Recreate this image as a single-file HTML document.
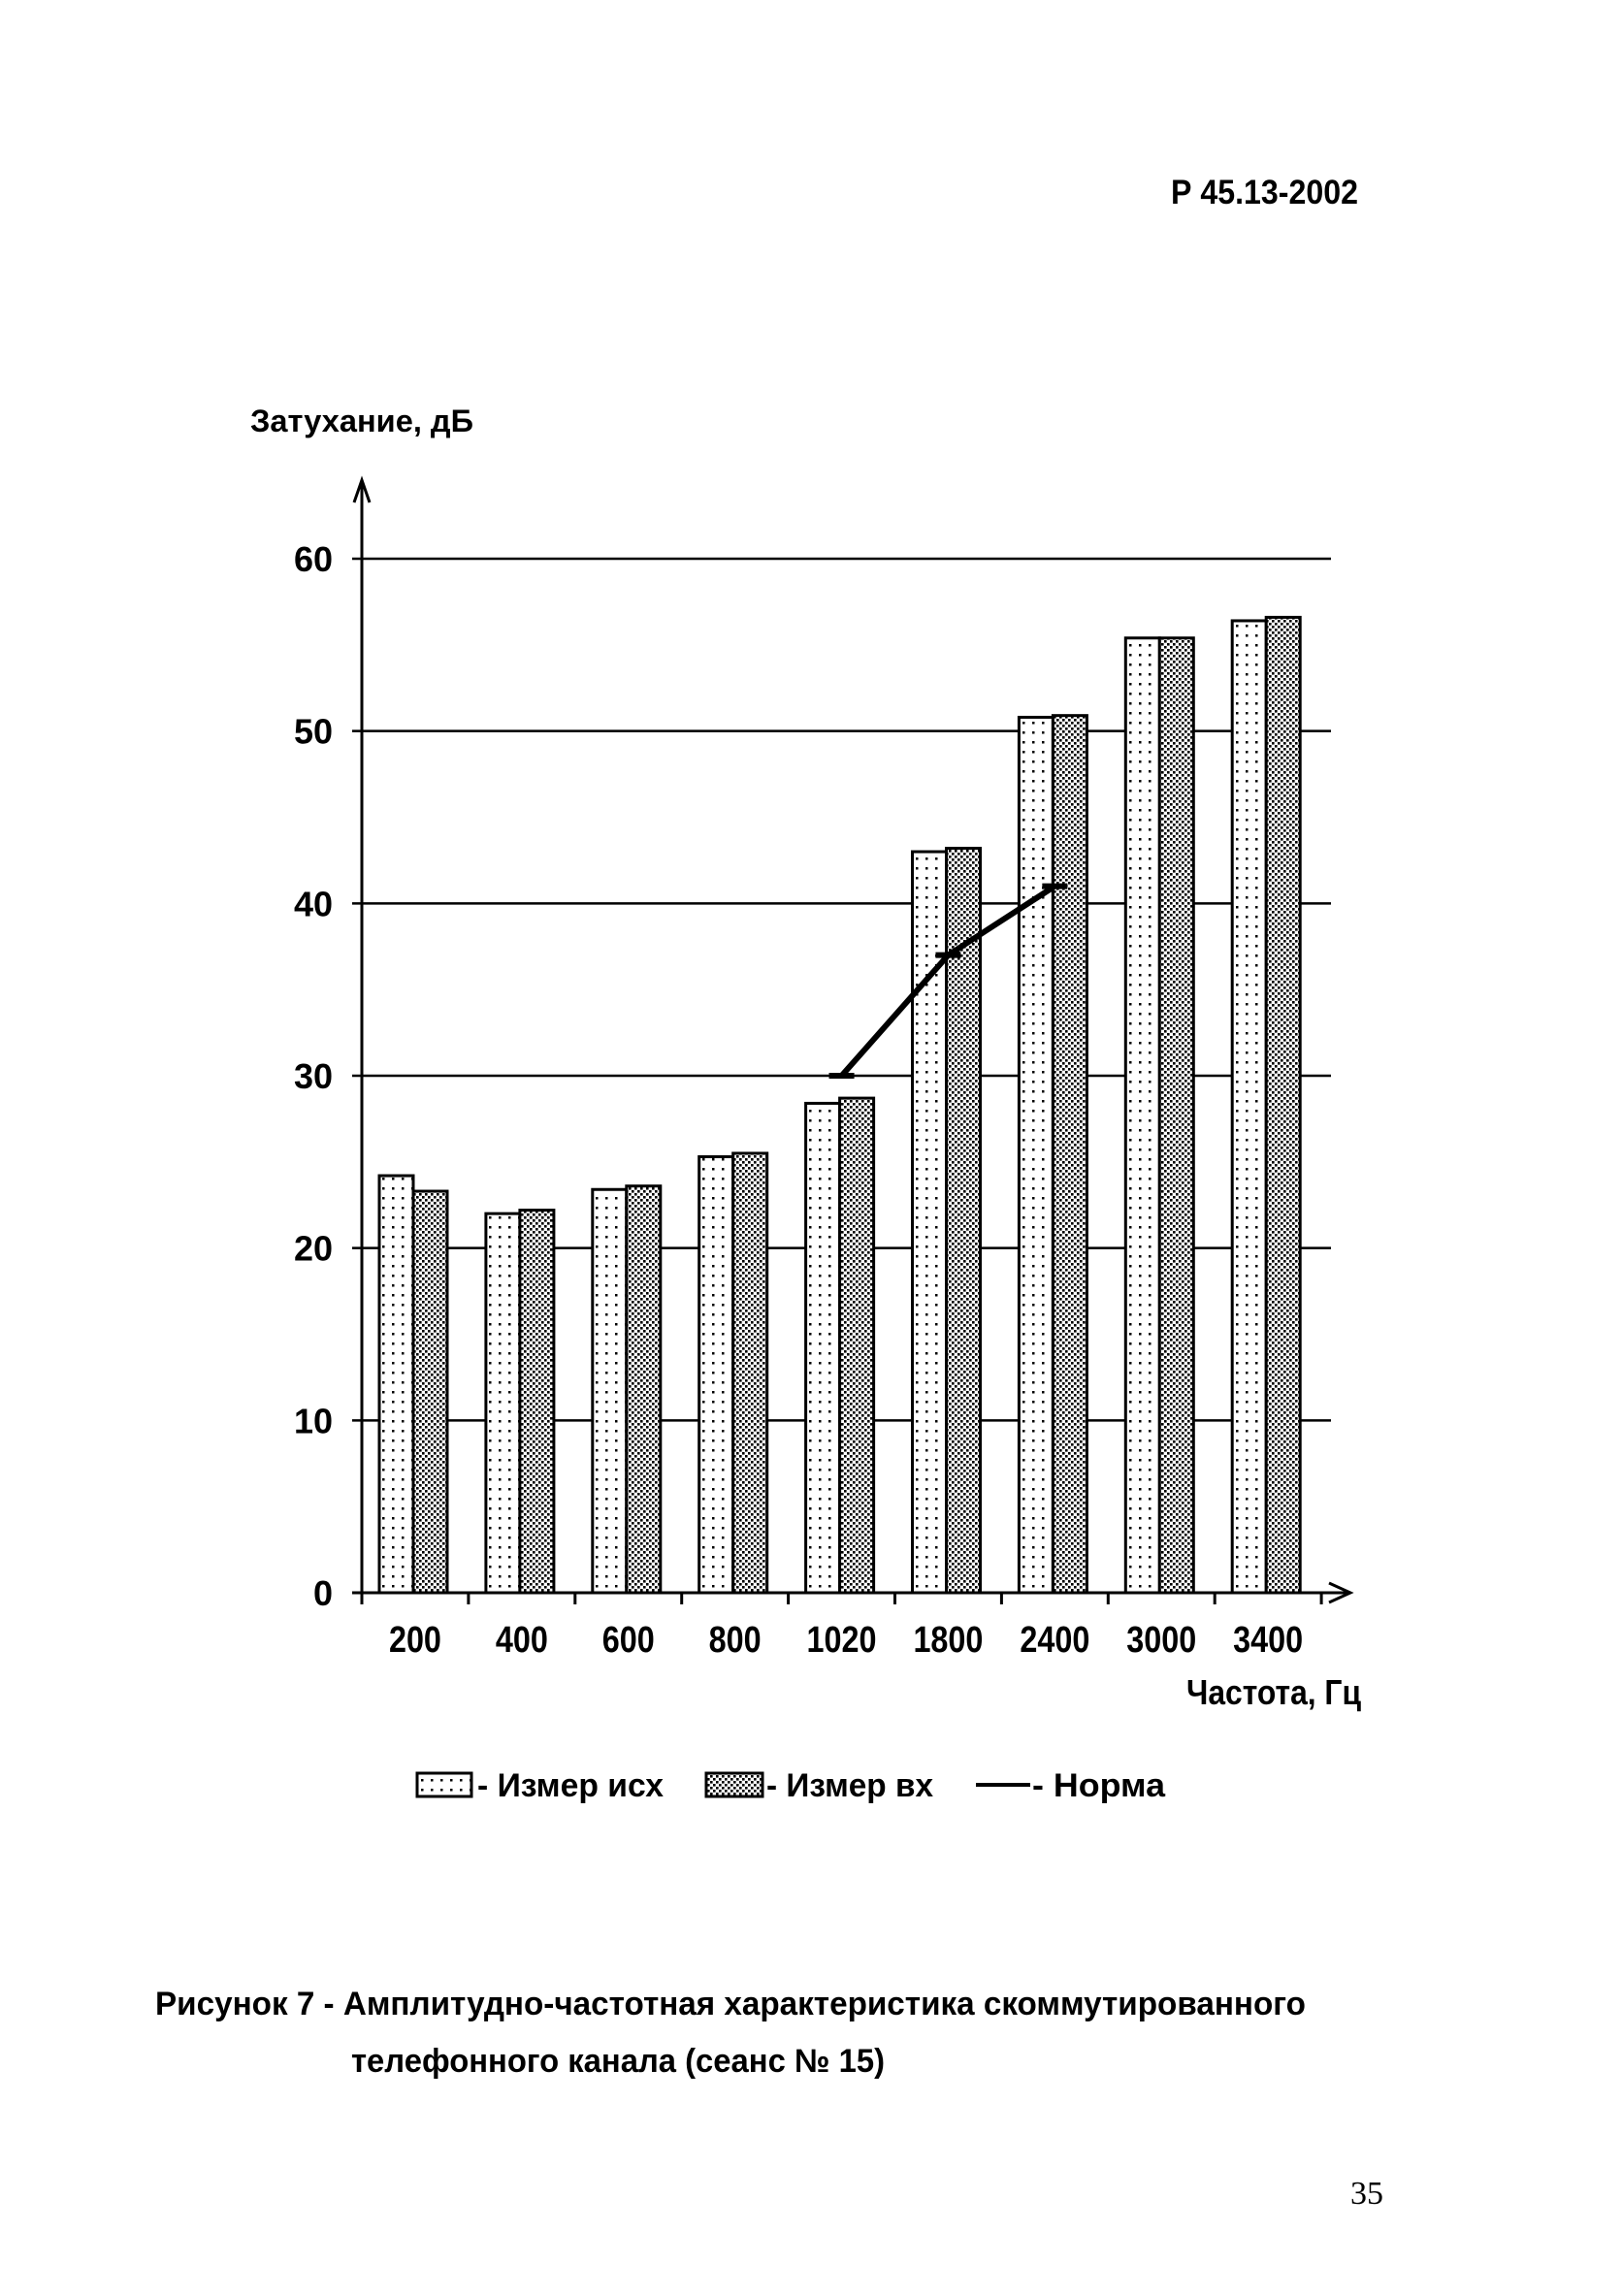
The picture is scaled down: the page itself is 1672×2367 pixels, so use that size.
<!DOCTYPE html>
<html><head><meta charset="utf-8">
<style>
html,body{margin:0;padding:0;background:#fff;}
svg{display:block;}
text{font-family:"Liberation Sans",sans-serif;font-weight:bold;fill:#000;}
</style></head>
<body>
<svg id="chart" width="1672" height="2367" viewBox="0 0 1672 2367" xmlns="http://www.w3.org/2000/svg">
<defs>
<pattern id="dots1" width="10" height="10" patternUnits="userSpaceOnUse">
<rect width="10" height="10" fill="#fff"/><rect x="4" y="4" width="2.5" height="2.5" fill="#000"/>
</pattern>
<pattern id="dots2" width="6" height="6" patternUnits="userSpaceOnUse">
<rect width="6" height="6" fill="#fff"/><rect x="0" y="0" width="2.6" height="2.6" fill="#000"/><rect x="3" y="3" width="2.6" height="2.6" fill="#000"/>
</pattern>
</defs>
<text x="1207" y="210" font-size="35" textLength="193" lengthAdjust="spacingAndGlyphs">Р 45.13-2002</text>
<text x="258" y="445" font-size="32" textLength="230" lengthAdjust="spacingAndGlyphs">Затухание, дБ</text>
<text x="1223" y="1757" font-size="36" textLength="180" lengthAdjust="spacingAndGlyphs">Частота, Гц</text>
<g id="grid"></g>
<g id="bars"></g>
<g id="axes"></g>
<g id="line"></g>
<g>
<rect x="430" y="1828" width="56" height="24" fill="url(#dots1)" stroke="#000" stroke-width="3"/>
<text x="492" y="1852" font-size="34" textLength="192" lengthAdjust="spacingAndGlyphs">- Измер исх</text>
<rect x="728" y="1828" width="58" height="24" fill="url(#dots2)" stroke="#000" stroke-width="3"/>
<text x="790" y="1852" font-size="34" textLength="172" lengthAdjust="spacingAndGlyphs">- Измер вх</text>
<line x1="1006" y1="1840" x2="1062" y2="1840" stroke="#000" stroke-width="4"/>
<text x="1064" y="1852" font-size="34" textLength="137" lengthAdjust="spacingAndGlyphs">- Норма</text>
</g>
<text x="160" y="2077" font-size="34" textLength="1186" lengthAdjust="spacingAndGlyphs">Рисунок 7  - Амплитудно-частотная характеристика скоммутированного</text>
<text x="362" y="2136" font-size="34" textLength="550" lengthAdjust="spacingAndGlyphs">телефонного канала (сеанс № 15)</text>
<text x="1392" y="2272" font-size="34" style="font-family:'Liberation Serif',serif;font-weight:normal">35</text>
</svg>
<script>
const categories=["200","400","600","800","1020","1800","2400","3000","3400"];
const isxValues=[24.2,22.0,23.4,25.3,28.4,43.0,50.8,55.4,56.4];
const vxValues=[23.3,22.2,23.6,25.5,28.7,43.2,50.9,55.4,56.6];
const normCategories=["1020","1800","2400"];
const normValues=[30,37,41];
const yTicks=[0,10,20,30,40,50,60];

const NS="http://www.w3.org/2000/svg";
const X0=373,BAND=109.9,Y0=1642,YPER=(1642-576)/60,BW=35,OFF=18;
function yScale(v){return Y0-v*YPER;}
function bandStart(i){return X0+i*BAND;}
function mk(tag,attrs,parent){const e=document.createElementNS(NS,tag);for(const k in attrs)e.setAttribute(k,attrs[k]);parent.appendChild(e);return e;}
const grid=document.getElementById('grid'),bars=document.getElementById('bars'),axes=document.getElementById('axes'),line=document.getElementById('line');

yTicks.forEach(t=>{
  const y=yScale(t);
  if(t>0){const g=mk('line',{x1:X0-10,y1:y,x2:1372,y2:y,stroke:'#000','stroke-width':2.5},grid);
  
  }
  const lab=mk('text',{x:X0-30,y:y+13,'font-size':36,'text-anchor':'end'},axes);
  lab.textContent=String(t);
  
  
});
categories.forEach((c,i)=>{
  const b=bandStart(i);
  const r1=mk('rect',{x:b+OFF,y:yScale(isxValues[i]),width:BW,height:Y0-yScale(isxValues[i]),fill:'url(#dots1)',stroke:'#000','stroke-width':3},bars);
  
  
  const r2=mk('rect',{x:b+OFF+BW,y:yScale(vxValues[i]),width:BW,height:Y0-yScale(vxValues[i]),fill:'url(#dots2)',stroke:'#000','stroke-width':3},bars);
  
  
  const lab=mk('text',{x:b+BAND/2,y:1703,'font-size':38,'text-anchor':'middle',textLength:(c.length*18),lengthAdjust:'spacingAndGlyphs'},axes);
  lab.textContent=c;
  
  
});
for(let i=0;i<=9;i++){
  const x=bandStart(i);
  const t=mk('line',{x1:x,y1:Y0,x2:x,y2:Y0+12,stroke:'#000','stroke-width':3},axes);
  
  
}
const ya=mk('path',{d:`M${X0},${Y0+12} L${X0},495 M${X0-8},518 L${X0},495 L${X0+8},518`,stroke:'#000','stroke-width':3,fill:'none'},axes);


const xa=mk('path',{d:`M${X0-10},${Y0} L1392,${Y0} M1370,${Y0-10} L1392,${Y0} L1370,${Y0+10}`,stroke:'#000','stroke-width':3,fill:'none'},axes);


const pts=normCategories.map((c,j)=>[bandStart(categories.indexOf(c))+BAND/2,yScale(normValues[j])]);
const pl=mk('polyline',{points:pts.map(p=>p.join(',')).join(' '),stroke:'#000','stroke-width':6,fill:'none'},line);


pts.forEach((p,j)=>{
  const m=mk('line',{x1:p[0]-13,y1:p[1],x2:p[0]+13,y2:p[1],stroke:'#000','stroke-width':6},line);
  
  
});
</script>
</body></html>
